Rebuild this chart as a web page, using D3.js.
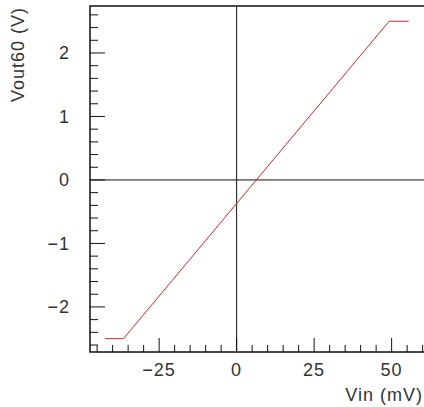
<!DOCTYPE html>
<html>
<head>
<meta charset="utf-8">
<script src="https://cdn.jsdelivr.net/npm/d3@7"></script>
<style>
  body { margin: 0; background: #fff; }
  text { font-family: "Liberation Sans", Arial, sans-serif; font-size: 18px; fill: #333; letter-spacing: 1px; }
</style>
</head>
<body>
<svg id="chart" width="424" height="407"></svg>
<script>
// transfer curve
const vin = [-42.5, -36.5, 49.2, 55.5];       // mV
const vout = [-2.5, -2.5, 2.5, 2.5];          // V
const xTicks = [-25, 0, 25, 50];
const yTicks = [-2, -1, 0, 1, 2];

const svg = d3.select("#chart");
const padLeft = 90, padTop = 6, padBottom = 352;

// x range runs past the window edge, the frame is clipped on the right
const x = d3.scaleLinear().domain([-47.3, 62]).range([padLeft, padLeft + 109.3 * 3.1]);
const y = d3.scaleLinear().domain([-2.71, 2.74]).range([padBottom, padTop]);

const g = svg.append("g");

// zero lines
g.append("line")
    .attr("x1", x(0)).attr("x2", x(0)).attr("y1", padTop).attr("y2", padBottom)
    .attr("stroke", "#111").attr("stroke-width", 1);
g.append("line")
    .attr("x1", padLeft).attr("x2", 424).attr("y1", y(0)).attr("y2", y(0))
    .attr("stroke", "#111").attr("stroke-width", 1);

// minor + major ticks, pointing inward
const xMinor = d3.range(-45, 61, 5);
g.selectAll(".xt").data(xMinor).join("line")
    .attr("x1", d => x(d)).attr("x2", d => x(d))
    .attr("y1", padBottom)
    .attr("y2", d => padBottom - (d % 25 === 0 ? 14 : 7))
    .attr("stroke", "#111");

const yMinor = d3.range(-26, 27, 2).map(d => d / 10);
g.selectAll(".yt").data(yMinor).join("line")
    .attr("y1", d => y(d)).attr("y2", d => y(d))
    .attr("x1", padLeft)
    .attr("x2", d => padLeft + (Math.abs(d % 1) < 1e-6 ? 15 : 8))
    .attr("stroke", "#111");

// frame (left, top, bottom)
g.append("path")
    .attr("d", `M 430,${padTop} H ${padLeft} V ${padBottom} H 430`)
    .attr("fill", "none").attr("stroke", "#111").attr("stroke-width", 1.5);

// curve
const line = d3.line().x((d, i) => x(vin[i])).y((d, i) => y(vout[i]));
g.append("path")
    .datum(vin)
    .attr("d", line)
    .attr("fill", "none").attr("stroke", "#d02828").attr("stroke-width", 1);

// tick labels
const fmt = d => d < 0 ? "\u2212" + Math.abs(d) : String(d);
g.selectAll(".xl").data(xTicks).join("text")
    .attr("x", d => x(d)).attr("y", 376)
    .attr("text-anchor", "middle")
    .text(fmt);
g.selectAll(".yl").data(yTicks).join("text")
    .attr("x", 70).attr("y", d => y(d))
    .attr("dy", "0.35em")
    .attr("text-anchor", "end")
    .text(fmt);

// axis titles
g.append("text")
    .attr("x", 423).attr("y", 401)
    .attr("text-anchor", "end")
    .text("Vin (mV)");
g.append("text")
    .attr("transform", "translate(24,7) rotate(-90)")
    .attr("text-anchor", "end")
    .text("Vout60 (V)");
</script>
</body>
</html>
